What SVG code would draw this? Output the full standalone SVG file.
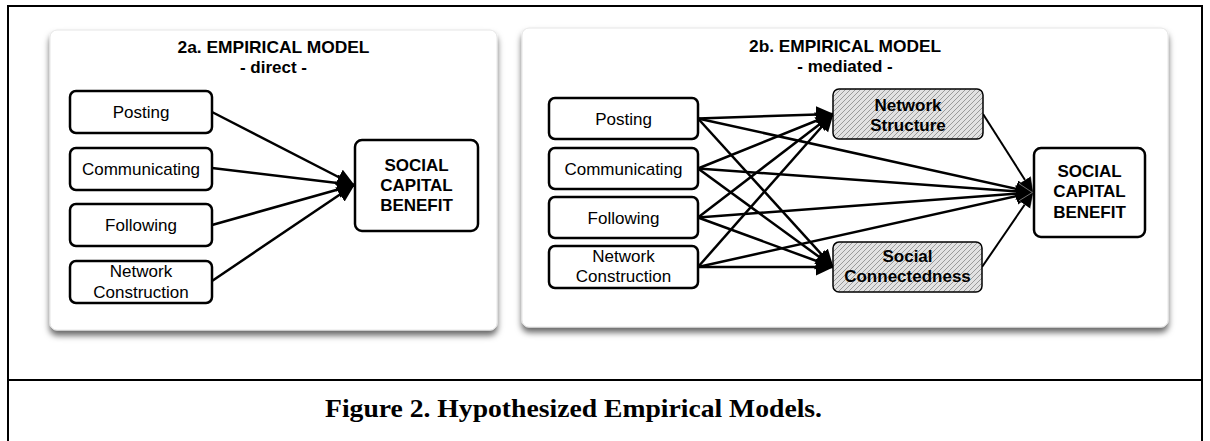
<svg xmlns="http://www.w3.org/2000/svg" width="1210" height="441" viewBox="0 0 1210 441">
<style>
.frame{fill:none;stroke:#000;stroke-width:2}
.panel{fill:#fff;stroke:#e6e6e6;stroke-width:1;filter:url(#shadow)}
.title{font-family:"Liberation Sans",Arial,sans-serif;font-weight:bold;font-size:17px;text-anchor:middle;fill:#000}
.box{fill:#fff;stroke:#000;stroke-width:2.5}
.hbox{fill:url(#hatch);stroke:#000;stroke-width:1.5}
.lbl{font-family:"Liberation Sans",Arial,sans-serif;font-size:17px;text-anchor:middle;fill:#000}
.blbl{font-family:"Liberation Sans",Arial,sans-serif;font-size:17px;font-weight:bold;text-anchor:middle;fill:#000}
.edge{stroke:#000;stroke-width:2.5;fill:none;marker-end:url(#ah)}
.edge2{stroke:#000;stroke-width:2;fill:none;marker-end:url(#ah2)}
.cap{font-family:"Liberation Serif","Times New Roman",serif;font-weight:bold;font-size:26px;fill:#000}
</style>
<defs>
<filter id="shadow" x="-5%" y="-5%" width="112%" height="115%">
<feDropShadow dx="0" dy="5" stdDeviation="3" flood-color="#000" flood-opacity="0.6"/>
</filter>
<pattern id="hatch" width="5" height="5" patternUnits="userSpaceOnUse">
<rect width="5" height="5" fill="#e2e2e2"/>
<path d="M0,5 L5,0 M-1,1 L1,-1 M4,6 L6,4" stroke="#9a9a9a" stroke-width="1"/>
</pattern>
<marker id="ah" markerUnits="userSpaceOnUse" markerWidth="20" markerHeight="18" refX="17" refY="8.5" orient="auto">
<path d="M0,0 L18,8.5 L0,17 z" fill="#000"/>
</marker>
<marker id="ah2" markerUnits="userSpaceOnUse" markerWidth="18" markerHeight="16" refX="15" refY="7" orient="auto">
<path d="M0,0 L16,7 L0,14 z" fill="#000" stroke="#fff" stroke-width="0.4"/>
</marker>
</defs>
<rect width="1210" height="441" fill="#fff"/>
<g id="frame">
<path class="frame" d="M8,441 V6 H1202 V441"/>
<line class="frame" x1="8" y1="380" x2="1202" y2="380"/>
</g>
<g id="panel-2a">
<rect class="panel" x="50" y="30" width="447" height="300" rx="7"/>
<text class="title" x="273.5" y="53" textLength="192" lengthAdjust="spacingAndGlyphs">2a. EMPIRICAL MODEL</text>
<text class="title" x="273.5" y="73">- direct -</text>
</g>
<g id="panel-2b">
<rect class="panel" x="522" y="28" width="646" height="299" rx="7"/>
<text class="title" x="845" y="52" textLength="192" lengthAdjust="spacingAndGlyphs">2b. EMPIRICAL MODEL</text>
<text class="title" x="845" y="72">- mediated -</text>
</g>
<g id="connectors-2a">
<line class="edge" x1="212" y1="112" x2="354" y2="185"/>
<line class="edge" x1="212" y1="168" x2="354" y2="185"/>
<line class="edge" x1="212" y1="225" x2="354" y2="185"/>
<line class="edge" x1="212" y1="281" x2="354" y2="185"/>
</g>
<g id="connectors-2b">
<line class="edge" x1="698" y1="118.5" x2="833" y2="114"/>
<line class="edge" x1="698" y1="168.5" x2="833" y2="114"/>
<line class="edge" x1="698" y1="217.5" x2="833" y2="114"/>
<line class="edge" x1="698" y1="267" x2="833" y2="114"/>
<line class="edge" x1="698" y1="118.5" x2="833" y2="267"/>
<line class="edge" x1="698" y1="168.5" x2="833" y2="267"/>
<line class="edge" x1="698" y1="217.5" x2="833" y2="267"/>
<line class="edge" x1="698" y1="267" x2="833" y2="267"/>
<line class="edge" x1="698" y1="118.5" x2="1033" y2="192.5"/>
<line class="edge" x1="698" y1="168.5" x2="1033" y2="192.5"/>
<line class="edge" x1="698" y1="217.5" x2="1033" y2="192.5"/>
<line class="edge" x1="698" y1="267" x2="1033" y2="192.5"/>
<line class="edge2" x1="983" y1="114" x2="1033" y2="192.5"/>
<line class="edge2" x1="982" y1="267" x2="1033" y2="192.5"/>
</g>
<g id="a-posting">
<rect class="box" x="70" y="91" width="142" height="42" rx="6"/>
<text class="lbl" x="141" y="118">Posting</text>
</g>
<g id="a-communicating">
<rect class="box" x="70" y="148" width="142" height="42" rx="6"/>
<text class="lbl" x="141" y="175">Communicating</text>
</g>
<g id="a-following">
<rect class="box" x="70" y="204" width="142" height="42" rx="6"/>
<text class="lbl" x="141" y="231">Following</text>
</g>
<g id="a-network-construction">
<rect class="box" x="70" y="261" width="142" height="42" rx="6"/>
<text class="lbl" x="141" y="276.5">Network</text>
<text class="lbl" x="141" y="297.5">Construction</text>
</g>
<g id="a-scb">
<rect class="box" x="355" y="140" width="123" height="91" rx="7"/>
<text class="blbl" x="416.5" y="171">SOCIAL</text>
<text class="blbl" x="416.5" y="191">CAPITAL</text>
<text class="blbl" x="416.5" y="211">BENEFIT</text>
</g>
<g id="b-posting">
<rect class="box" x="549" y="98" width="149" height="41" rx="6"/>
<text class="lbl" x="623.5" y="124.5">Posting</text>
</g>
<g id="b-communicating">
<rect class="box" x="549" y="148" width="149" height="41" rx="6"/>
<text class="lbl" x="623.5" y="174.5">Communicating</text>
</g>
<g id="b-following">
<rect class="box" x="549" y="197" width="149" height="41" rx="6"/>
<text class="lbl" x="623.5" y="223.5">Following</text>
</g>
<g id="b-network-construction">
<rect class="box" x="549" y="246" width="149" height="42" rx="6"/>
<text class="lbl" x="623.5" y="262">Network</text>
<text class="lbl" x="623.5" y="282">Construction</text>
</g>
<g id="b-network-structure">
<rect class="hbox" x="833" y="89" width="150" height="50" rx="6"/>
<text class="blbl" x="908" y="110.5">Network</text>
<text class="blbl" x="908" y="130.5">Structure</text>
</g>
<g id="b-social-connectedness">
<rect class="hbox" x="833" y="242" width="149" height="50" rx="6"/>
<text class="blbl" x="907.5" y="262">Social</text>
<text class="blbl" x="907.5" y="282">Connectedness</text>
</g>
<g id="b-scb">
<rect class="box" x="1034" y="148" width="111" height="89" rx="7"/>
<text class="blbl" x="1089.5" y="177">SOCIAL</text>
<text class="blbl" x="1089.5" y="197">CAPITAL</text>
<text class="blbl" x="1089.5" y="218">BENEFIT</text>
</g>
<g id="caption">
<text class="cap" x="325" y="417" textLength="497" lengthAdjust="spacingAndGlyphs">Figure 2. Hypothesized Empirical Models.</text>
</g>
</svg>
